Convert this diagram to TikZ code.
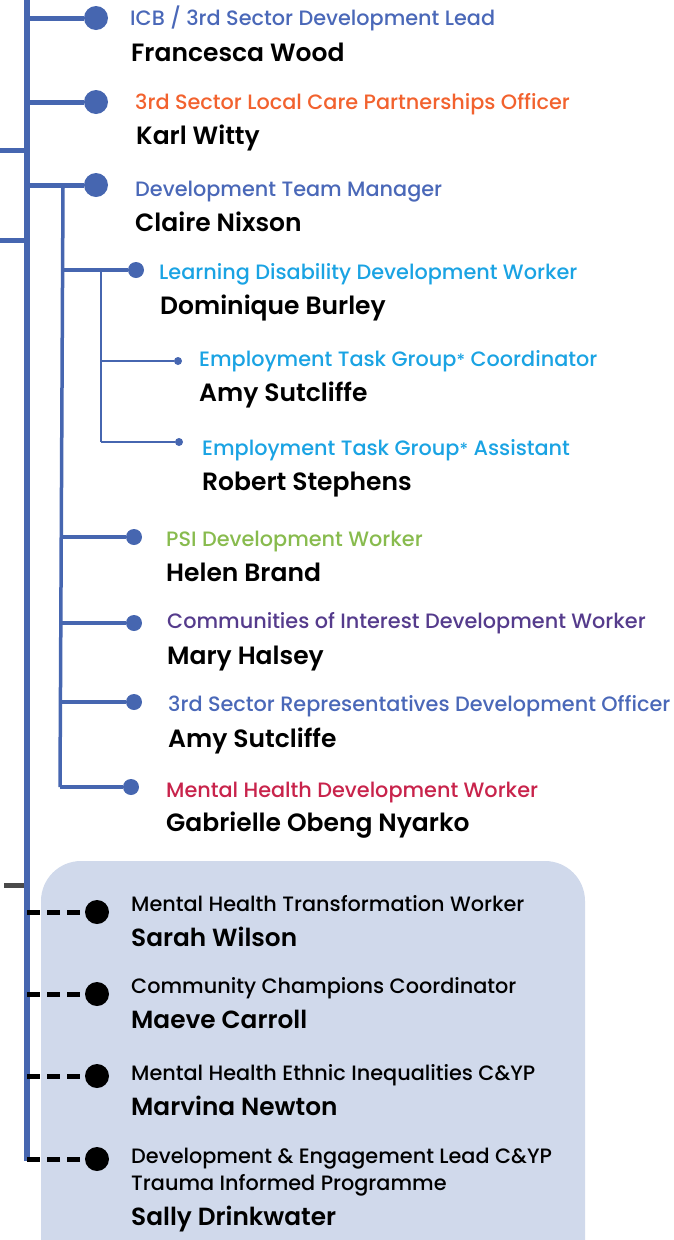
\documentclass[tikz,border=0pt]{standalone}
\usepackage{fontspec}
\setmainfont{Poppins}
\newfontfamily\medfont{Poppins Medium}
\newfontfamily\semifont{Poppins SemiBold}
\definecolor{lineblue}{HTML}{4666B0}
\definecolor{tblue}{HTML}{4A68B8}
\definecolor{torange}{HTML}{F2622E}
\definecolor{tlight}{HTML}{1AA3E3}
\definecolor{tgreen}{HTML}{88BB4E}
\definecolor{tpurple}{HTML}{553B8C}
\definecolor{tred}{HTML}{C8234B}
\definecolor{boxfill}{HTML}{D0D9EB}
\definecolor{stubgray}{HTML}{4A4A4A}
\tikzset{
  mainline/.style={draw=lineblue, line width=6pt},
  branch/.style={draw=lineblue, line width=5pt},
  subline/.style={draw=lineblue, line width=3.5pt},
  subsubline/.style={draw=lineblue, line width=2pt},
  dashline/.style={draw=black, line width=5pt, dash pattern=on 13pt off 7pt},
  bigdot/.style={circle, fill=lineblue, minimum size=24pt, inner sep=0pt},
  middot/.style={circle, fill=lineblue, minimum size=16pt, inner sep=0pt},
  smalldot/.style={circle, fill=lineblue, minimum size=8pt, inner sep=0pt},
  blackdot/.style={circle, fill=black, minimum size=24pt, inner sep=0pt},
  title/.style={anchor=base west, inner sep=0pt, font=\medfont\fontsize{20.8}{23}\selectfont},
  pname/.style={anchor=base west, inner sep=0pt, text=black, font=\semifont\fontsize{25}{28}\selectfont},
  btitle/.style={anchor=base west, inner sep=0pt, text=black, font=\medfont\fontsize{20.8}{23}\selectfont},
  bname/.style={anchor=base west, inner sep=0pt, text=black, font=\semifont\fontsize{24.8}{27}\selectfont},
}
\newcommand{\grpast}{{\fontsize{17}{17}\selectfont *}}
\begin{document}
\begin{tikzpicture}[x=1pt,y=-1pt]
\useasboundingbox (0,0) rectangle (674,1240);
\clip (0,0) rectangle (674,1240);
% shaded box
\fill[boxfill, rounded corners=40pt] (41,861) rectangle (585,1290);

% main vertical line
\coordinate (mtop) at (27,-5);
\coordinate (mbot) at (27,1161);
\draw[mainline] (mtop) -- (mbot);

% left stubs
\coordinate (s1a) at (-2,150); \coordinate (s1b) at (27,150);
\coordinate (s2a) at (-2,240); \coordinate (s2b) at (27,240);
\coordinate (s3a) at (4,885);  \coordinate (s3b) at (24,885);
\draw[branch] (s1a) -- (s1b);
\draw[branch] (s2a) -- (s2b);
\draw[draw=stubgray, line width=5pt] (s3a) -- (s3b);

% top-level branches
\node[bigdot] (d1) at (96,18) {};
\node[bigdot] (d2) at (96,102) {};
\node[bigdot] (d3) at (96,185) {};
\coordinate (m1) at (27,18);
\coordinate (m2) at (27,102);
\coordinate (m3) at (27,185);
\draw[branch] (m1) -- (d1);
\draw[branch] (m2) -- (d2);
\draw[branch] (m3) -- (d3);

% sub vertical line
\coordinate (vtop) at (63,188);
\coordinate (vbot) at (60,787);
\draw[subline] (vtop) -- (vbot);
\node[middot] (d4) at (136,270) {};
\node[middot] (d7) at (134,537) {};
\node[middot] (d8) at (134,623) {};
\node[middot] (d9) at (134,702) {};
\node[middot] (d10) at (131,787) {};
\coordinate (v4) at (62.5,270);
\coordinate (v7) at (61.3,537);
\coordinate (v8) at (60.9,623);
\coordinate (v9) at (60.5,702);
\draw[subline] (v4) -- (d4);
\draw[subline] (v7) -- (d7);
\draw[subline] (v8) -- (d8);
\draw[subline] (v9) -- (d9);
\draw[subline] (vbot) -- (d10);

% sub-sub vertical
\coordinate (wtop) at (101,270);
\coordinate (wbot) at (101,442);
\coordinate (w5) at (101,361);
\draw[subsubline] (wtop) -- (wbot);
\node[smalldot] (d5) at (178,361) {};
\node[smalldot] (d6) at (179,442) {};
\draw[subsubline] (w5) -- (d5);
\draw[subsubline] (wbot) -- (d6);

% dashed connectors
\node[blackdot] (e1) at (97,912) {};
\node[blackdot] (e2) at (97,994) {};
\node[blackdot] (e3) at (97,1076) {};
\node[blackdot] (e4) at (97,1159) {};
\coordinate (n1) at (27,912);
\coordinate (n2) at (27,994);
\coordinate (n3) at (27,1076);
\coordinate (n4) at (27,1159);
\draw[dashline] (n1) -- (e1);
\draw[dashline] (n2) -- (e2);
\draw[dashline] (n3) -- (e3);
\draw[dashline] (n4) -- (e4);

% texts
\node[title, text=tblue] (t1) at (130,25) {ICB / 3rd Sector Development Lead};
\node[pname] (p1) at (131,61) {Francesca Wood};
\node[title, text=torange] (t2) at (135,109) {3rd Sector Local Care Partnerships Officer};
\node[pname] (p2) at (136,144) {Karl Witty};
\node[title, text=tblue] (t3) at (135,196) {Development Team Manager};
\node[pname] (p3) at (135,231) {Claire Nixson};
\node[title, text=tlight] (t4) at (159,279) {Learning Disability Development Worker};
\node[pname] (p4) at (160,314) {Dominique Burley};
\node[title, text=tlight] (t5) at (199,366) {Employment Task Group\grpast{} Coordinator};
\node[pname] (p5) at (199,401) {Amy Sutcliffe};
\node[title, text=tlight] (t6) at (202,455) {Employment Task Group\grpast{} Assistant};
\node[pname] (p6) at (202,490) {Robert Stephens};
\node[title, text=tgreen] (t7) at (166,546) {PSI Development Worker};
\node[pname] (p7) at (166,581) {Helen Brand};
\node[title, text=tpurple] (t8) at (167,628) {Communities of Interest Development Worker};
\node[pname] (p8) at (167,664) {Mary Halsey};
\node[title, text=tblue] (t9) at (168,711) {3rd Sector Representatives Development Officer};
\node[pname] (p9) at (168,747) {Amy Sutcliffe};
\node[title, text=tred] (t10) at (166,797) {Mental Health Development Worker};
\node[pname] (p10) at (166,831) {Gabrielle Obeng Nyarko};

\node[btitle] (t11) at (131,911) {Mental Health Transformation Worker};
\node[bname] (p11) at (131,946) {Sarah Wilson};
\node[btitle] (t12) at (131,993) {Community Champions Coordinator};
\node[bname] (p12) at (131,1028) {Maeve Carroll};
\node[btitle] (t13) at (131,1080) {Mental Health Ethnic Inequalities C\&YP};
\node[bname] (p13) at (131,1115) {Marvina Newton};
\node[btitle] (t14) at (131,1163) {Development \& Engagement Lead C\&YP};
\node[btitle] (t14b) at (131,1190) {Trauma Informed Programme};
\node[bname] (p14) at (131,1225) {Sally Drinkwater};
\end{tikzpicture}
\end{document}
